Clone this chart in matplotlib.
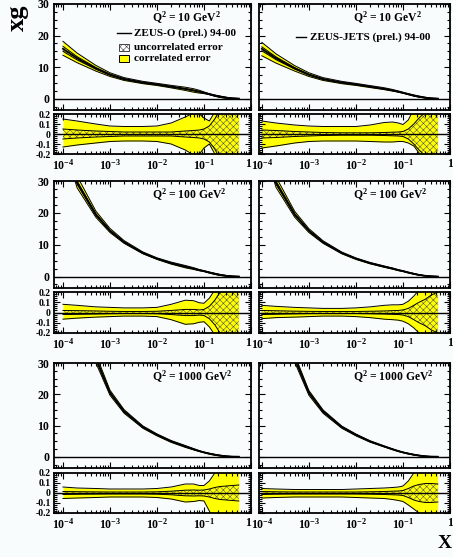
import numpy as np
import matplotlib
matplotlib.use('Agg')
import matplotlib.pyplot as plt
from matplotlib.patches import Rectangle
from matplotlib.ticker import LogLocator, MultipleLocator, FixedLocator, FixedFormatter, NullFormatter

plt.rcParams['font.family'] = ['Liberation Serif', 'DejaVu Serif']
plt.rcParams['font.weight'] = 'bold'
plt.rcParams['mathtext.fontset'] = 'custom'
plt.rcParams['mathtext.rm'] = 'Liberation Serif:bold'
plt.rcParams['mathtext.bf'] = 'Liberation Serif:bold'
plt.rcParams['mathtext.it'] = 'Liberation Serif:bold:italic'
plt.rcParams['mathtext.default'] = 'rm'
plt.rcParams['hatch.linewidth'] = 0.4
plt.rcParams['axes.unicode_minus'] = False

# ---------------- data ----------------
x_grid = [1e-4, 2e-4, 5e-4, 1e-3, 2e-3, 5e-3, 1e-2, 2e-2, 4e-2, 6e-2, 8e-2,
          0.1, 0.13, 0.17, 0.22, 0.3, 0.4, 0.55]

q2_values = ['10', '100', '1000']
fit_names = ['ZEUS-O (prel.) 94-00', 'ZEUS-JETS (prel.) 94-00']

xg_q10 = [15.8, 12.8, 9.6, 7.6, 6.2, 5.1, 4.5, 3.8, 3.1, 2.6, 2.2, 1.85, 1.4, 0.95, 0.6, 0.28, 0.1, 0.02]
xg_q100 = [45, 29.5, 19.5, 14.4, 10.8, 7.4, 5.6, 4.2, 3.1, 2.5, 2.0, 1.7, 1.25, 0.85, 0.5, 0.22, 0.07, 0.01]
xg_q1000 = [80, 52, 31.5, 20.5, 14.5, 9.5, 7.0, 4.9, 3.3, 2.4, 1.8, 1.4, 1.0, 0.65, 0.38, 0.15, 0.05, 0.01]

# relative errors: ZEUS-O
corr_up_O10 = [0.15, 0.13, 0.10, 0.08, 0.075, 0.075, 0.08, 0.11, 0.17, 0.21, 0.20, 0.16, 0.13, 0.22, 0.4, 0.6, 0.8, 1.0]
corr_dn_O10 = [0.13, 0.11, 0.09, 0.075, 0.07, 0.07, 0.075, 0.10, 0.16, 0.21, 0.20, 0.14, 0.10, 0.20, 0.4, 0.6, 0.8, 1.0]
unc_O10 = [0.05, 0.04, 0.03, 0.025, 0.02, 0.02, 0.02, 0.02, 0.03, 0.035, 0.04, 0.05, 0.08, 0.15, 0.25, 0.35, 0.45, 0.5]

corr_up_O100 = [0.08, 0.07, 0.055, 0.05, 0.045, 0.045, 0.05, 0.08, 0.12, 0.115, 0.095, 0.09, 0.14, 0.22, 0.35, 0.5, 0.7, 0.9]
corr_dn_O100 = [0.065, 0.055, 0.045, 0.04, 0.035, 0.035, 0.04, 0.07, 0.115, 0.11, 0.095, 0.09, 0.14, 0.22, 0.35, 0.5, 0.7, 0.9]
unc_O100 = [0.02, 0.018, 0.015, 0.012, 0.01, 0.01, 0.012, 0.02, 0.03, 0.03, 0.025, 0.03, 0.06, 0.12, 0.2, 0.3, 0.4, 0.5]

corr_up_O1000 = [0.06, 0.05, 0.045, 0.04, 0.04, 0.04, 0.045, 0.06, 0.09, 0.09, 0.075, 0.075, 0.12, 0.2, 0.3, 0.45, 0.6, 0.8]
corr_dn_O1000 = [0.055, 0.05, 0.045, 0.04, 0.04, 0.04, 0.045, 0.06, 0.09, 0.085, 0.075, 0.08, 0.18, 0.3, 0.4, 0.5, 0.6, 0.8]
unc_O1000 = [0.015, 0.013, 0.011, 0.01, 0.01, 0.01, 0.012, 0.018, 0.028, 0.03, 0.028, 0.03, 0.04, 0.055, 0.065, 0.07, 0.075, 0.08]

# relative errors: ZEUS-JETS
corr_up_J10 = [0.13, 0.11, 0.09, 0.08, 0.075, 0.075, 0.075, 0.09, 0.115, 0.12, 0.11, 0.095, 0.14, 0.25, 0.4, 0.6, 0.8, 1.0]
corr_dn_J10 = [0.14, 0.12, 0.09, 0.075, 0.07, 0.07, 0.07, 0.075, 0.08, 0.08, 0.075, 0.075, 0.09, 0.12, 0.19, 0.3, 0.5, 0.8]
unc_J10 = [0.04, 0.035, 0.025, 0.02, 0.015, 0.012, 0.012, 0.012, 0.015, 0.018, 0.02, 0.025, 0.05, 0.1, 0.16, 0.22, 0.3, 0.4]

corr_up_J100 = [0.07, 0.06, 0.05, 0.045, 0.04, 0.04, 0.045, 0.055, 0.07, 0.075, 0.075, 0.08, 0.11, 0.16, 0.22, 0.3, 0.45, 0.6]
corr_dn_J100 = [0.06, 0.05, 0.045, 0.04, 0.035, 0.035, 0.04, 0.05, 0.065, 0.07, 0.075, 0.085, 0.11, 0.15, 0.2, 0.3, 0.45, 0.6]
unc_J100 = [0.02, 0.017, 0.013, 0.011, 0.01, 0.01, 0.01, 0.012, 0.015, 0.018, 0.02, 0.025, 0.04, 0.07, 0.1, 0.13, 0.17, 0.2]

corr_up_J1000 = [0.045, 0.04, 0.035, 0.035, 0.035, 0.035, 0.04, 0.045, 0.05, 0.055, 0.06, 0.07, 0.12, 0.2, 0.3, 0.4, 0.5, 0.6]
corr_dn_J1000 = [0.05, 0.045, 0.04, 0.04, 0.04, 0.04, 0.045, 0.05, 0.055, 0.065, 0.075, 0.085, 0.12, 0.16, 0.2, 0.3, 0.4, 0.5]
unc_J1000 = [0.015, 0.012, 0.01, 0.01, 0.01, 0.01, 0.01, 0.012, 0.015, 0.018, 0.02, 0.025, 0.045, 0.07, 0.085, 0.095, 0.095, 0.09]

main_yticks = [0, 10, 20, 30]
ratio_yticks = [-0.2, -0.1, 0, 0.1, 0.2]
ratio_ylabels = ['-0.2', '-0.1', '0', '0.1', '0.2']
x_ticks = [1e-4, 1e-3, 1e-2, 1e-1, 1]
x_ticklabels = ['$10^{-4}$', '$10^{-3}$', '$10^{-2}$', '$10^{-1}$', '1']

centrals = [xg_q10, xg_q100, xg_q1000]
errors = [
    [(corr_up_O10, corr_dn_O10, unc_O10), (corr_up_J10, corr_dn_J10, unc_J10)],
    [(corr_up_O100, corr_dn_O100, unc_O100), (corr_up_J100, corr_dn_J100, unc_J100)],
    [(corr_up_O1000, corr_dn_O1000, unc_O1000), (corr_up_J1000, corr_dn_J1000, unc_J1000)],
]

# ---------------- layout ----------------
W, H = 453, 557
BG = '#f8fcfc'
YEL = '#ffff00'
HATCH_C = '#555555'
cols = [(54, 251), (259, 450)]
xlims = [(10 ** -4.19, 1.0), (10 ** -4.06, 1.0)]
main_rows = [(4, 110), (181, 288), (363, 468)]
ratio_rows = [(114, 154), (292, 333), (473, 513)]
TICK_FS = 8.5
RATIO_Y_FS = 7.0
LEG_FS = 8.0
Q_FS = 8.4

fig = plt.figure(figsize=(W / 100, H / 100), dpi=100)
fig.patch.set_facecolor(BG)


def fpos(c, r):
    x0, x1 = c
    y0, y1 = r
    return [x0 / W, 1 - y1 / H, (x1 - x0) / W, (y1 - y0) / H]


def style(ax, col, ratio):
    ax.set_facecolor(BG)
    ax.set_xscale('log')
    ax.set_xlim(*xlims[col])
    for s in ax.spines.values():
        s.set_linewidth(1.3)
    ax.tick_params(which='both', direction='in', top=True, right=True, width=0.8)
    ax.tick_params(which='major', length=4.5, labelsize=TICK_FS)
    ax.tick_params(which='minor', length=2.5)
    ax.xaxis.set_major_locator(FixedLocator(x_ticks))
    ax.xaxis.set_minor_locator(LogLocator(base=10, subs=np.arange(2, 10), numticks=20))
    ax.xaxis.set_minor_formatter(NullFormatter())
    if ratio:
        ax.set_ylim(-0.2, 0.2)
        ax.yaxis.set_major_locator(FixedLocator(ratio_yticks))
        ax.yaxis.set_minor_locator(MultipleLocator(0.02))
        ax.xaxis.set_major_formatter(FixedFormatter(x_ticklabels))
        ax.tick_params(axis='x', which='major', pad=3)
        ax.tick_params(axis='y', which='major', labelsize=RATIO_Y_FS, pad=2.5)
        if col == 0:
            ax.yaxis.set_major_formatter(FixedFormatter(ratio_ylabels))
        else:
            ax.set_yticklabels([])
        labs = ax.get_xticklabels()
        labs[-1].set_horizontalalignment('right' if col == 0 else 'center')
    else:
        ax.set_ylim(-3.6, 30)
        ax.yaxis.set_major_locator(FixedLocator(main_yticks))
        ax.yaxis.set_minor_locator(MultipleLocator(2.5))
        ax.set_xticklabels([])
        if col == 0:
            ax.yaxis.set_major_formatter(FixedFormatter([str(v) for v in main_yticks]))
        else:
            ax.set_yticklabels([])
    for lab in ax.get_xticklabels() + ax.get_yticklabels():
        lab.set_fontweight('bold')


x = np.array(x_grid)
for r in range(3):
    c = np.array(centrals[r])
    for col in range(2):
        cu, cd, u = (np.array(a) for a in errors[r][col])
        # main panel
        ax = fig.add_axes(fpos(cols[col], main_rows[r]))
        style(ax, col, False)
        ax.fill_between(x, c * (1 - cd), c * (1 + cu), color=YEL, lw=0)
        ax.fill_between(x, c * (1 - u), c * (1 + u), facecolor='none',
                        edgecolor=HATCH_C, hatch='xxxxx', lw=0)
        for yy in (c * (1 - cd), c * (1 + cu), c * (1 - u), c * (1 + u)):
            ax.plot(x, yy, color='k', lw=0.7)
        ax.plot(x, c, color='k', lw=1.3)
        ax.axhline(0, color='k', lw=1.0)
        q = q2_values[r]
        ax.text(0.5 if col == 0 else 0.49, 0.87, 'Q$^2$ = ' + q + ' GeV$^2$',
                transform=ax.transAxes, fontsize=Q_FS, fontweight='bold',
                ha='left', va='center')
        if r == 0 and col == 0:
            ax.plot([0.32, 0.39], [0.726, 0.726], color='k', lw=1.0, transform=ax.transAxes)
            ax.text(0.405, 0.726, fit_names[0], transform=ax.transAxes, fontsize=LEG_FS,
                    fontweight='bold', va='center', ha='left')
            ax.add_patch(Rectangle((0.33, 0.56), 0.05, 0.062, transform=ax.transAxes,
                                   facecolor='white', edgecolor='#444444', hatch='xxxxx', lw=0.7))
            ax.text(0.405, 0.59, 'uncorrelated error', transform=ax.transAxes, fontsize=LEG_FS,
                    fontweight='bold', va='center', ha='left')
            ax.add_patch(Rectangle((0.33, 0.455), 0.05, 0.062, transform=ax.transAxes,
                                   facecolor=YEL, edgecolor='k', lw=0.7))
            ax.text(0.405, 0.485, 'correlated error', transform=ax.transAxes, fontsize=LEG_FS,
                    fontweight='bold', va='center', ha='left')
        if r == 0 and col == 1:
            ax.plot([0.194, 0.246], [0.689, 0.689], color='k', lw=1.0, transform=ax.transAxes)
            ax.text(0.267, 0.689, fit_names[1], transform=ax.transAxes, fontsize=LEG_FS,
                    fontweight='bold', va='center', ha='left')

        # ratio panel
        axr = fig.add_axes(fpos(cols[col], ratio_rows[r]))
        style(axr, col, True)
        axr.fill_between(x, -cd, cu, color=YEL, lw=0)
        axr.fill_between(x, -u, u, facecolor='none', edgecolor=HATCH_C, hatch='xxxxx', lw=0)
        for yy in (-cd, cu, -u, u):
            axr.plot(x, yy, color='k', lw=0.7)
        axr.axhline(0, color='k', lw=1.0)

fig.text(17 / W, 1 - 18 / H, 'xg', rotation=90, fontsize=19, fontweight='bold',
         ha='center', va='center')
fig.text(445 / W, 1 - 543 / H, 'X', fontsize=14, fontweight='bold', ha='center', va='center')

fig.savefig('out.png', dpi=100, facecolor=BG)
